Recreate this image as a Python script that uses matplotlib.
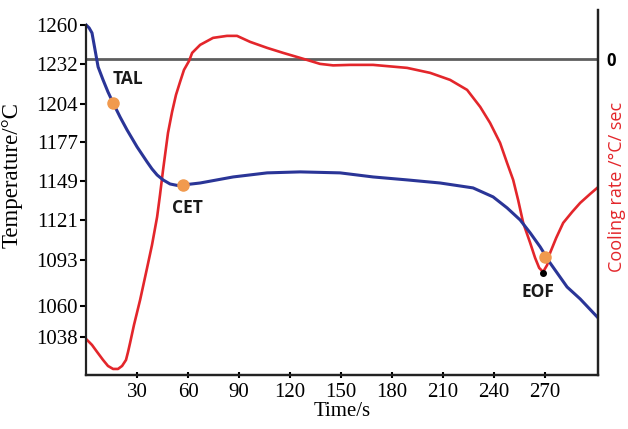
import matplotlib
matplotlib.use('Agg')
import matplotlib.pyplot as plt

# temperature curve (blue), time in s, temperature in degC
t_temp = [0, 1.8, 3.5, 5.3, 7.1, 10.0, 12.9, 15.9, 20.0, 24.1, 30.0, 35.9, 38.8, 41.8,
          45.3, 49.4, 53.5, 57.1, 67.1, 86.5, 106.5, 125.9, 149.4, 168.8, 188.8, 208.2,
          227.6, 239.4, 247.6, 255.3, 261.2, 267.1, 272.9, 282.9, 290.6, 300.6]
temp = [1260, 1257.9, 1254.3, 1242.2, 1230.1, 1220.9, 1212.3, 1204.5, 1194.5, 1185.3,
        1173.2, 1162.5, 1157.5, 1153.2, 1149.7, 1146.8, 1145.8, 1146.1, 1147.5, 1151.8,
        1154.7, 1155.4, 1154.7, 1151.8, 1149.7, 1147.5, 1144.0, 1137.6, 1129.8, 1121.2,
        1112.0, 1102.0, 1090.6, 1073.5, 1065.0, 1052.2]

# cooling rate curve (red)
t_rate = [0.6, 3.5, 6.5, 10.0, 12.9, 15.9, 18.8, 21.2, 23.5, 24.7, 25.9, 28.2, 31.8,
          35.9, 38.8, 41.8, 43.5, 45.3, 48.2, 50.6, 52.9, 55.3, 57.6, 60.6, 62.4, 67.1,
          74.7, 82.9, 88.8, 96.5, 106.5, 115.9, 125.9, 131.8, 137.6, 145.3, 155.3, 168.8,
          188.8, 202.4, 214.1, 224.1, 231.8, 237.6, 243.5, 247.6, 251.2, 254.1, 257.1,
          261.2, 264.1, 266.5, 268.8, 271.2, 272.9, 276.5, 280.6, 285.9, 290.6, 296.5,
          300.6]
rate = [-2.805, -2.855, -2.925, -3.005, -3.065, -3.095, -3.095, -3.065, -3.005, -2.925,
        -2.835, -2.655, -2.405, -2.085, -1.855, -1.575, -1.355, -1.105, -0.735, -0.525,
        -0.355, -0.225, -0.105, -0.015, 0.065, 0.145, 0.215, 0.235, 0.235, 0.175, 0.115,
        0.065, 0.015, -0.015, -0.045, -0.06, -0.055, -0.055, -0.085, -0.135, -0.205,
        -0.305, -0.475, -0.635, -0.835, -1.035, -1.205, -1.405, -1.635, -1.835, -1.985,
        -2.085, -2.125, -2.055, -1.935, -1.785, -1.635, -1.525, -1.435, -1.345, -1.285]

# marked points
pt_names = ['TAL', 'CET', 'EOF']
pt_time = [15.9, 57.1, 270.0]
pt_temp = [1204.5, 1146.1, 1094.9]
lbl_time = [24.7, 59.4, 265.9]
lbl_temp = [1221.6, 1129.7, 1070.0]
eof_rate_time = 268.8
eof_rate = -2.135

xticks = [30, 60, 90, 120, 150, 180, 210, 240, 270]
yticks = [1260, 1232, 1204, 1177, 1149, 1121, 1093, 1060, 1038]

fig = plt.figure(figsize=(6.28, 4.29), dpi=100)
ax = fig.add_axes([0.137, 0.126, 0.815, 0.851])
ax2 = ax.twinx()
ax.set_zorder(ax2.get_zorder() + 1)
ax.patch.set_visible(False)

ax2.axhline(0, color='#5e5e5e', lw=2)
ax2.plot(t_rate, rate, color='#e3262b', lw=1.9, solid_joinstyle='round')
ax2.plot([eof_rate_time], [eof_rate], 'o', color='black', ms=4)

ax.plot(t_temp, temp, color='#2a3597', lw=2.2, solid_joinstyle='round')
ax.plot(pt_time, pt_temp, 'o', color='#f19a4e', ms=8, zorder=5)
for name, x, y in zip(pt_names, lbl_time, lbl_temp):
    ax.text(x, y, name, ha='center', va='center', fontsize=12.5, fontweight='bold',
            family='Open Sans', color='#1a1a1a')

ax.set_xlim(0, 301)
ax.set_ylim(1010.9, 1270.7)
ax2.set_ylim(-3.155, 0.495)

ax.set_xticks(xticks)
ax.set_yticks(yticks)
ax.set_xticklabels([str(v) for v in xticks], family='Liberation Serif', fontsize=15)
ax.set_yticklabels([str(v) for v in yticks], family='Liberation Serif', fontsize=15)
ax.tick_params(axis='y', direction='out', length=4, width=1.5, pad=2)
ax.tick_params(axis='x', direction='inout', length=5, width=1.5, pad=3)

ax2.set_yticks([0])
ax2.set_yticklabels(['0'], family='Open Sans', fontweight='bold', fontsize=12)
ax2.tick_params(axis='y', length=0, pad=6)

for a in (ax, ax2):
    a.spines['top'].set_visible(False)
    for s in ('left', 'right', 'bottom'):
        a.spines[s].set_linewidth(1.6)
        a.spines[s].set_color('#222222')
ax.spines['left'].set_bounds(1010.9, 1260)
ax2.spines['left'].set_visible(False)

ax.set_xlabel('Time/s', family='Liberation Serif', fontsize=15, labelpad=0)
ax.set_ylabel('Temperature/°C', family='Liberation Serif', fontsize=16.5)
ax.yaxis.set_label_coords(-0.123, 0.548)
fig.text(617 / 628, 1 - 187 / 429, 'Cooling rate /°C/ sec', rotation=90, ha='center',
         va='center', family='Open Sans', fontsize=13, color='#e3262b')

fig.savefig('out.png', dpi=100)
